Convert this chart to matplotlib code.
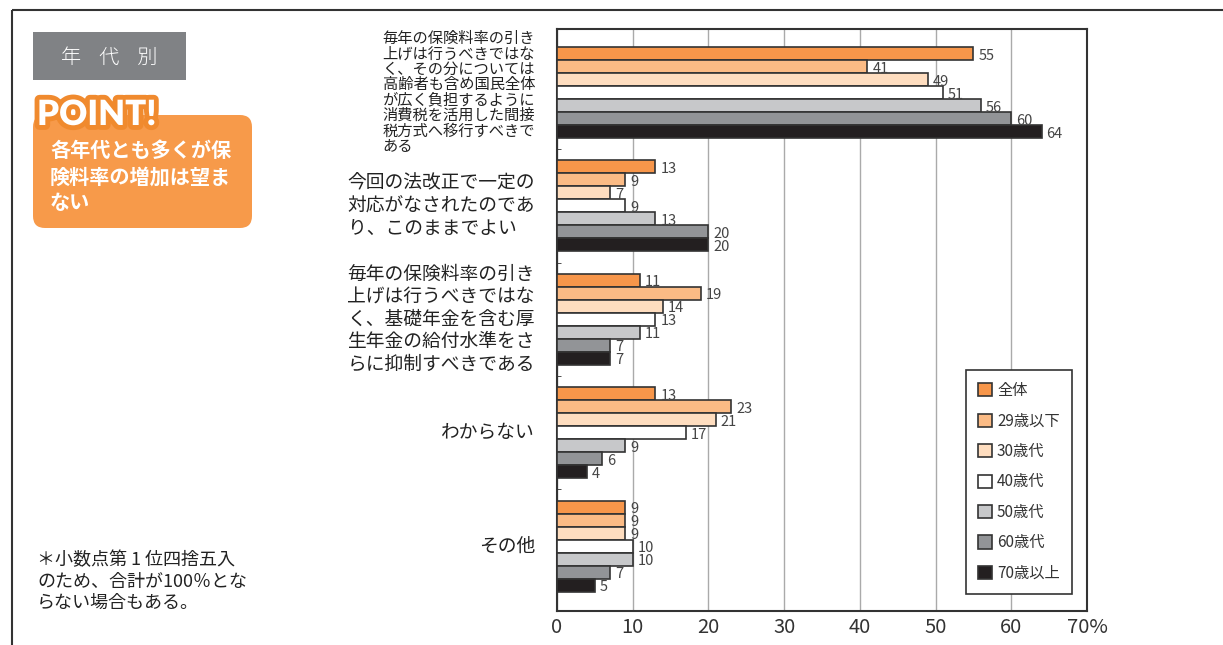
import matplotlib
matplotlib.use("Agg")
import matplotlib.pyplot as plt
import numpy as np
from matplotlib.patches import Rectangle, FancyBboxPatch
import matplotlib.patheffects as pe

plt.rcParams['font.family'] = ['Noto Sans CJK JP', 'DejaVu Sans']

categories = [
    "毎年の保険料率の引き\n上げは行うべきではな\nく、その分については\n高齢者も含め国民全体\nが広く負担するように\n消費税を活用した間接\n税方式へ移行すべきで\nある",
    "今回の法改正で一定の\n対応がなされたのであ\nり、このままでよい",
    "毎年の保険料率の引き\n上げは行うべきではな\nく、基礎年金を含む厚\n生年金の給付水準をさ\nらに抑制すべきである",
    "わからない",
    "その他",
]
series_names = ["全体", "29歳以下", "30歳代", "40歳代", "50歳代", "60歳代", "70歳以上"]
v_all = [55, 13, 11, 13, 9]
v_u29 = [41, 9, 19, 23, 9]
v_30s = [49, 7, 14, 21, 9]
v_40s = [51, 9, 13, 17, 10]
v_50s = [56, 13, 11, 9, 10]
v_60s = [60, 20, 7, 6, 7]
v_70p = [64, 20, 7, 4, 5]
series_values = [v_all, v_u29, v_30s, v_40s, v_50s, v_60s, v_70p]
colors = ["#F7964A", "#FBBB85", "#FEDDBF", "#FFFFFF", "#C7C8CA", "#929497", "#231F20"]
x_ticks = [0, 10, 20, 30, 40, 50, 60, 70]
x_ticklabels = ["0", "10", "20", "30", "40", "50", "60", "70%"]

W, H = 1223, 645
fig = plt.figure(figsize=(W / 100, H / 100), dpi=100)

# background / decoration layer in pixel coordinates
bg = fig.add_axes([0, 0, 1, 1], zorder=0)
bg.set_xlim(0, W)
bg.set_ylim(H, 0)
bg.axis('off')
bg.plot([12, W], [10, 10], color="#333333", lw=1.5, solid_capstyle='butt')
bg.plot([12, 12], [10, H], color="#333333", lw=1.5, solid_capstyle='butt')

bg.add_patch(Rectangle((33, 32), 153, 48, facecolor="#808285", edgecolor='none'))
bg.text(109.5, 57, "年    代    別", color="white", fontsize=14.5, fontweight='light',
        ha='center', va='center')

bg.add_patch(FancyBboxPatch((33, 115), 219, 113,
                            boxstyle="round,pad=0,rounding_size=12",
                            facecolor="#F79A4A", edgecolor='none'))
bg.text(37, 125, "POINT!", fontsize=25, fontweight='heavy', color='white',
        family=['Lato', 'DejaVu Sans'], ha='left', va='baseline',
        path_effects=[pe.withStroke(linewidth=7, foreground="#F08A2E")])
bg.text(50, 140, "各年代とも多くが保\n険料率の増加は望ま\nない", color='white',
        fontsize=14.5, fontweight='bold', ha='left', va='top', linespacing=1.3)

bg.text(37, 551, "＊小数点第 1 位四捨五入\nのため、合計が100％とな\nらない場合もある。",
        color="#222222", fontsize=13, ha='left', va='top', linespacing=1.26)

# main chart
ax = fig.add_axes([557 / W, 1 - 611 / H, 530 / W, 582 / H], zorder=1)
n_cat = len(categories)
n_ser = len(series_names)
bar_h = 0.1146
y_base = np.arange(n_cat)
handles = []
for j, (name, vals, col) in enumerate(zip(series_names, series_values, colors)):
    ys = y_base + (j - (n_ser - 1) / 2) * bar_h
    b = ax.barh(ys, vals, height=bar_h, color=col, edgecolor="#333333",
                linewidth=1.2, label=name, zorder=3)
    handles.append(b)
    for y, v in zip(ys, vals):
        ax.annotate(f"{v}", (v, y), xytext=(3.5, -1.5), textcoords='offset points',
                    ha='left', va='center', fontsize=10.5, color="#444444", zorder=4)

ax.set_xlim(0, 70)
ax.set_ylim(4.573, -0.56)
ax.set_xticks(x_ticks)
ax.set_xticklabels(x_ticklabels, fontsize=14.5, color="#333333")
ax.tick_params(axis='x', length=0, pad=4)
ax.xaxis.grid(True, color="#AAAAAA", lw=1, zorder=0)
ax.set_axisbelow(True)

ax.set_yticks(y_base)
ax.set_yticklabels([])
ax.set_yticks(np.arange(n_cat - 1) + 0.5, minor=True)
ax.tick_params(axis='y', which='major', length=0)
ax.tick_params(axis='y', which='minor', length=3, direction='in', color="#333333")

for i, lab in enumerate(categories):
    small = i == 0
    ax.annotate(lab, (0, i), xycoords=('axes fraction', 'data'),
                xytext=(-22 * 0.72, 0), textcoords='offset points',
                ha='right', va='center', multialignment='left',
                fontsize=11 if small else 13.5,
                linespacing=0.87 if small else 1.1, color="#222222")

for s in ax.spines.values():
    s.set_color("#333333")
    s.set_linewidth(1.5)

leg = ax.legend(handles=handles, loc='lower right', bbox_to_anchor=(0.9717, 0.0292),
                fancybox=False, edgecolor="#333333", framealpha=1, fontsize=11,
                borderpad=0.8, labelspacing=0.88, handlelength=0.95, handleheight=0.95,
                handletextpad=0.3, borderaxespad=0)
leg.get_frame().set_linewidth(1.2)
for t in leg.get_texts():
    t.set_color("#333333")

fig.savefig("out.png", dpi=100)
